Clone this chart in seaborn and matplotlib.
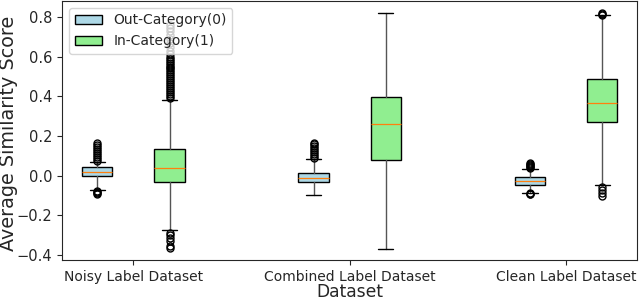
import matplotlib
matplotlib.use("Agg")
import matplotlib.pyplot as plt
import matplotlib.patches as mpatches
import seaborn as sns

sns.set_style("ticks")
plt.rcParams['font.family'] = ['DejaVu Sans']

datasets = ["Noisy Label Dataset", "Combined Label Dataset", "Clean Label Dataset"]
series = ["Out-Category(0)", "In-Category(1)"]
colors = ["lightblue", "lightgreen"]

# per series: values for each dataset
q1 = {"Out-Category(0)": [-0.003, -0.033, -0.047], "In-Category(1)": [-0.033, 0.08, 0.27]}
med = {"Out-Category(0)": [0.02, -0.013, -0.028], "In-Category(1)": [0.04, 0.26, 0.368]}
q3 = {"Out-Category(0)": [0.045, 0.013, -0.008], "In-Category(1)": [0.135, 0.397, 0.487]}
whislo = {"Out-Category(0)": [-0.073, -0.097, -0.088], "In-Category(1)": [-0.275, -0.37, -0.05]}
whishi = {"Out-Category(0)": [0.067, 0.083, 0.033], "In-Category(1)": [0.383, 0.822, 0.808]}
fliers = {
    "Out-Category(0)": [
        [0.075, 0.085, 0.095, 0.105, 0.115, 0.125, 0.135, 0.145, 0.155, 0.165,
         -0.08, -0.085, -0.09, -0.095],
        [0.09, 0.1, 0.11, 0.12, 0.13, 0.14, 0.15, 0.16, 0.165],
        [0.04, 0.045, 0.05, 0.055, 0.06, 0.063, -0.09, -0.093, -0.095],
    ],
    "In-Category(1)": [
        [0.39, 0.40, 0.41, 0.42, 0.43, 0.44, 0.45, 0.46, 0.47, 0.48, 0.49, 0.50,
         0.51, 0.52, 0.53, 0.54, 0.55, 0.56, 0.57, 0.58, 0.59, 0.60, 0.615,
         0.63, 0.65, 0.67, 0.69, 0.71, 0.73, 0.745, 0.758,
         -0.29, -0.30, -0.315, -0.33, -0.355, -0.365],
        [],
        [0.812, 0.816, 0.82, -0.06, -0.075, -0.09, -0.105],
    ],
}

fig = plt.figure(figsize=(6.4, 3.01), dpi=100)
ax = fig.add_axes([0.097, 0.136, 0.899, 0.861])

offsets = [-0.167, 0.167]
for s, off, col in zip(series, offsets, colors):
    stats = []
    for i in range(len(datasets)):
        stats.append(dict(q1=q1[s][i], med=med[s][i], q3=q3[s][i],
                          whislo=whislo[s][i], whishi=whishi[s][i],
                          fliers=fliers[s][i]))
    ax.bxp(stats, positions=[i + off for i in range(len(datasets))], widths=0.14,
           patch_artist=True, manage_ticks=False,
           boxprops=dict(facecolor=col, edgecolor="black", linewidth=1),
           whiskerprops=dict(color="#555555", linewidth=1),
           capprops=dict(color="black", linewidth=1),
           medianprops=dict(color="#ff7f0e", linewidth=0.9),
           flierprops=dict(marker="o", markerfacecolor="none",
                           markeredgecolor="black", markersize=5))

ax.set_xticks(range(len(datasets)))
ax.set_xticklabels(datasets, fontsize=10)
ax.set_xlim(-0.33, 2.33)
ax.set_ylim(-0.4265, 0.881)
ax.set_yticks([-0.4, -0.2, 0.0, 0.2, 0.4, 0.6, 0.8])
ax.tick_params(axis='y', labelsize=10.5)
ax.set_xlabel("Dataset", fontsize=12.3, labelpad=-0.8)
ax.set_ylabel("Average Similarity Score", fontsize=13.8)
ax.yaxis.set_label_coords(-0.077, 0.49)
for sp in ax.spines.values():
    sp.set_visible(True)

handles = [mpatches.Patch(facecolor=c, edgecolor="black", label=s) for s, c in zip(series, colors)]
ax.legend(handles=handles, loc="upper left", fontsize=10, frameon=True)

fig.savefig("out.png", dpi=100)
